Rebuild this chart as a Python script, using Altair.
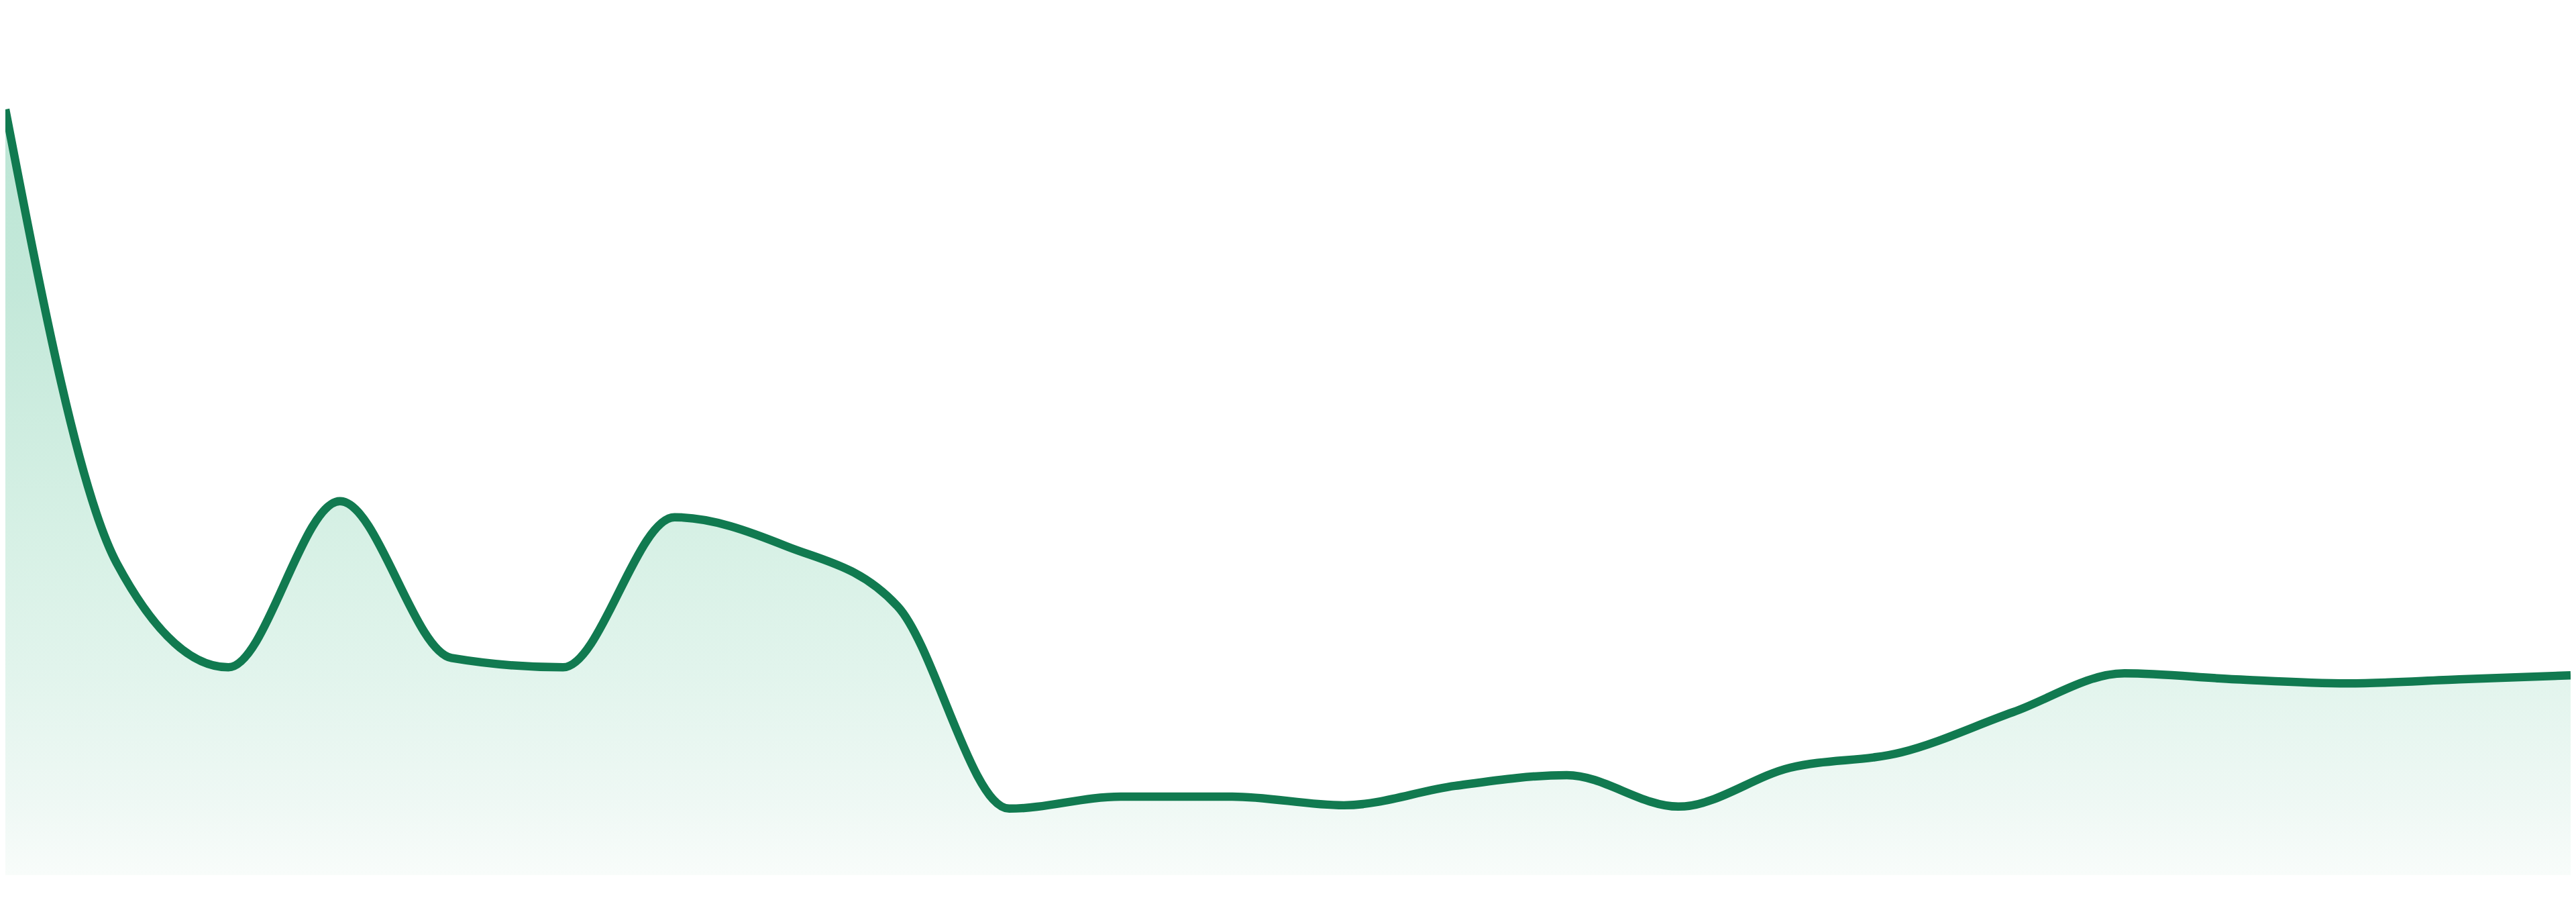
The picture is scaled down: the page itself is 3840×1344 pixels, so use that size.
import altair as alt
import pandas as pd

# Sparkline series: 24 equally spaced samples
index = list(range(24))
values = [1143, 465, 310, 558, 324, 310, 534, 491, 401, 99, 117, 117,
          104, 133, 149, 102, 160, 183, 243, 301, 292, 286, 292, 298]

LINE_COLOR = "#117a50"
Y_MAX = 1297

df = pd.DataFrame({"i": index, "v": values})

x_enc = alt.X("i:Q", axis=None, scale=alt.Scale(domain=[0, 23], nice=False, zero=False))
y_enc = alt.Y("v:Q", axis=None, scale=alt.Scale(domain=[0, Y_MAX], nice=False, zero=True))

gradient = alt.Gradient(
    gradient="linear",
    x1=0, x2=0, y1=0, y2=1,
    stops=[
        alt.GradientStop(color="#bce6d5", offset=0),
        alt.GradientStop(color="#c3e8d9", offset=0.23),
        alt.GradientStop(color="#d8f1e6", offset=0.58),
        alt.GradientStop(color="#e1f4ec", offset=0.73),
        alt.GradientStop(color="#eef8f4", offset=0.9),
        alt.GradientStop(color="#f8fcfa", offset=1),
    ],
)

area = alt.Chart(df).mark_area(interpolate="monotone", color=gradient).encode(x=x_enc, y=y_enc)
line = alt.Chart(df).mark_line(interpolate="monotone", color=LINE_COLOR, strokeWidth=12.5).encode(x=x_enc, y=y_enc)

chart = (
    alt.layer(area, line)
    .properties(width=3832, height=Y_MAX, padding=0, background="white",
                autosize=alt.AutoSizeParams(type="none"))
    .configure_view(stroke=None)
)

chart.save("out.html", embed_options={"renderer": "svg", "actions": False})
